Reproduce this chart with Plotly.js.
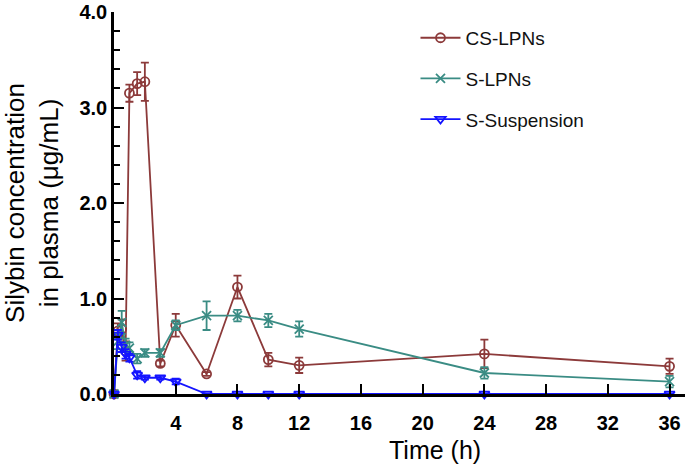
<!DOCTYPE html>
<html>
<head>
<meta charset="utf-8">
<script src="https://cdn.plot.ly/plotly-3.0.1.min.js"></script>
<style>
  html, body { margin: 0; padding: 0; background: #fff; }
  #myDiv { width: 685px; height: 466px; }
</style>
</head>
<body>
<div id="myDiv"></div>
<script>
var time = [0, 0.25, 0.5, 0.75, 1, 1.5, 2, 3, 4, 6, 8, 10, 12, 24, 36];

var csLpns    = [0, 0.66, 0.68, 0.45, 3.15, 3.25, 3.27, 0.32, 0.72, 0.21, 1.12, 0.36, 0.30, 0.42, 0.29];
var csLpnsErr = [0, 0.08, 0.10, 0.10, 0.09, 0.12, 0.20, 0.03, 0.12, 0.02, 0.12, 0.07, 0.08, 0.15, 0.08];

var sLpns    = [0, 0.55, 0.75, 0.51, 0.48, 0.37, 0.43, 0.43, 0.72, 0.82, 0.82, 0.77, 0.68, 0.22, 0.13];
var sLpnsErr = [0, 0.08, 0.12, 0.07, 0.06, 0.05, 0.04, 0.04, 0.05, 0.15, 0.06, 0.07, 0.08, 0.06, 0.06];

var sSusp    = [0, 0.62, 0.49, 0.42, 0.38, 0.20, 0.17, 0.17, 0.13, 0, 0, 0, 0, 0, 0];
var sSuspErr = [0, 0.05, 0.05, 0.05, 0.04, 0.04, 0.02, 0.02, 0.03, 0, 0, 0, 0, 0, 0];

var xTicks = [4, 8, 12, 16, 20, 24, 28, 32, 36];

var brown = 'rgb(140,58,58)';
var teal = 'rgb(58,140,132)';
var blue = 'rgb(20,20,255)';
var fontFam = 'Liberation Sans, Arial, sans-serif';

function series(name, y, err, color, symbol, group) {
    return {
        x: time,
        y: y,
        name: name,
        legendgroup: group,
        type: 'scatter',
        mode: 'lines+markers',
        cliponaxis: false,
        line: {color: color, width: 1.8},
        marker: {symbol: symbol, size: 9, color: color, line: {color: color, width: 1.8}},
        error_y: {type: 'data', array: err, visible: true, color: color, thickness: 1.8, width: 4}
    };
}

var data = [
    series('CS-LPNs', csLpns, csLpnsErr, brown, 'circle-open', 'a'),
    series('S-LPNs', sLpns, sLpnsErr, teal, 'x-thin-open', 'b'),
    series('S-Suspension', sSusp, sSuspErr, blue, 'triangle-down-open', 'c')
];

var layout = {
    width: 685,
    height: 466,
    margin: {l: 114, r: 0, t: 12, b: 72},
    paper_bgcolor: '#fff',
    plot_bgcolor: '#fff',
    font: {family: fontFam, color: '#000'},
    showlegend: true,
    legend: {
        x: 0.528, y: 0.982, xanchor: 'left', yanchor: 'top',
        font: {size: 19, color: '#111'},
        traceorder: 'grouped',
        tracegroupgap: 13,
        itemwidth: 40,
        bgcolor: 'rgba(0,0,0,0)'
    },
    xaxis: {
        range: [0, 37],
        tickvals: xTicks,
        ticks: 'inside',
        ticklen: 10,
        tickwidth: 2,
        tickcolor: '#000',
        ticklabelstandoff: 9,
        showline: true,
        linecolor: '#000',
        linewidth: 2.5,
        showgrid: false,
        zeroline: false,
        tickfont: {size: 20, family: fontFam, weight: 'bold'}
    },
    yaxis: {
        range: [0, 4],
        dtick: 1,
        tick0: 0,
        tickformat: '.1f',
        ticks: 'inside',
        ticklen: 10,
        tickwidth: 2,
        tickcolor: '#000',
        minor: {dtick: 0.2, ticks: 'inside', ticklen: 6, tickwidth: 2, tickcolor: '#000'},
        showline: true,
        linecolor: '#000',
        linewidth: 2.5,
        showgrid: false,
        zeroline: false,
        tickfont: {size: 20, family: fontFam, weight: 'bold'},
        title: {text: 'Silybin concentration<br>in plasma (μg/mL)', font: {size: 26}, standoff: 18}
    },
    annotations: [{
        text: 'Time (h)',
        xref: 'paper', yref: 'paper',
        x: 0.562, y: -0.147,
        xanchor: 'center', yanchor: 'middle',
        showarrow: false,
        font: {size: 25, family: fontFam, color: '#000'}
    }]
};

Plotly.newPlot('myDiv', data, layout, {displayModeBar: false});
</script>
</body>
</html>
